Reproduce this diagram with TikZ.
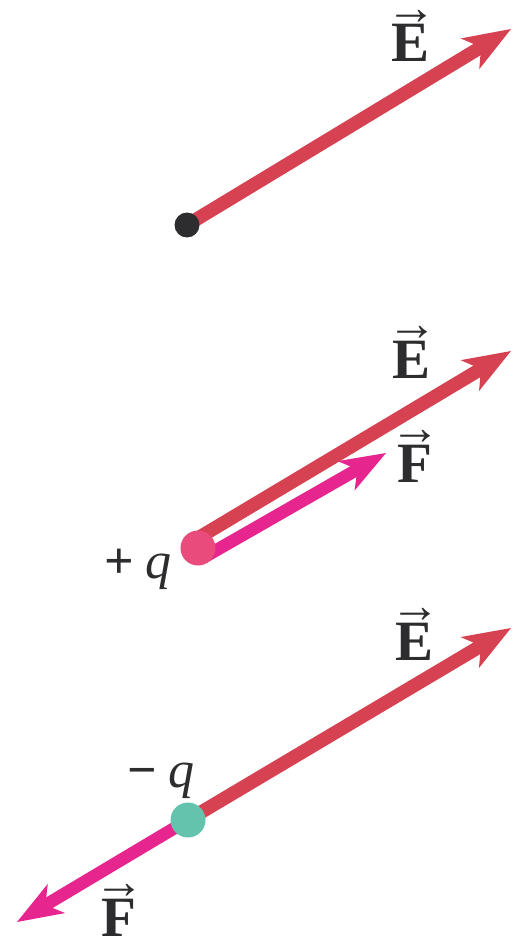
\documentclass[tikz,border=0pt]{standalone}
\usepackage{fontspec}
\setmainfont{Liberation Serif}
\usetikzlibrary{arrows.meta,backgrounds}
\definecolor{efield}{RGB}{214,66,82}
\definecolor{fforce}{RGB}{230,38,142}
\definecolor{dotblack}{RGB}{45,45,48}
\definecolor{dotpink}{RGB}{233,76,124}
\definecolor{dotteal}{RGB}{100,195,172}
\newcommand\vecl[1]{\leavevmode\vbox{\offinterlineskip\halign{\hfil##\hfil\cr
  {\fontsize{50}{50}\selectfont →}\cr\noalign{\kern 0pt}
  \textbf{#1}\cr}}}
\begin{document}
\begin{tikzpicture}[x=1pt,y=-1pt,
  earrow/.style={draw=efield, line width=13.5pt, -{Stealth[length=48pt,width=36pt,inset=13pt,line width=0pt]}},
  farrow/.style={draw=fforce, line width=12.5pt, -{Stealth[length=46pt,width=34pt,inset=13pt,line width=0pt]}},
  charge/.style={circle, inner sep=0pt, minimum size=#1},
  lbl/.style={anchor=base, inner sep=0pt, text=dotblack, font=\fontsize{57}{60}\selectfont},
  qlbl/.style={anchor=base west, inner sep=0pt, text=dotblack, font=\fontsize{52}{56}\selectfont}]
\useasboundingbox (0,0) rectangle (512,941);

% ---------- panel 1 ----------
\node[charge=25pt, fill=dotblack] (d1) at (187,225) {};
\coordinate (e1tip) at (511,29);
\node[lbl] (E1) at (411,62) {\vecl{E}};
\begin{pgfonlayer}{background}
\draw[earrow] (d1.center) -- (e1tip);
\end{pgfonlayer}

% ---------- panel 2 ----------
\node[charge=35pt, fill=dotpink] (d2) at (198,548) {};
\coordinate (e2start) at ([shift={(-4.4,-7.3)}]d2.center);
\coordinate (f2start) at ([shift={(5.7,9.4)}]d2.center);
\coordinate (e2tip) at (511,351);
\coordinate (f2tip) at (386,453);
\node[lbl] (E2) at (412,378) {\vecl{E}};
\node[lbl] (F2) at (415,482) {\vecl{F}};
\node[qlbl] (q2) at (104,578) {\textbf{+}\hspace{12pt}\textit{q}};
\begin{pgfonlayer}{background}
\draw[earrow] (e2start) -- (e2tip);
\draw[farrow] (f2start) -- (f2tip);
\end{pgfonlayer}

% ---------- panel 3 ----------
\node[charge=35pt, fill=dotteal] (d3) at (188,820) {};
\coordinate (e3tip) at (511,628);
\coordinate (f3tip) at (17,922);
\node[lbl] (E3) at (415,660) {\vecl{E}};
\node[lbl] (F3) at (119,936) {\vecl{F}};
\node[qlbl] (q3) at (127,787) {\textbf{−}\hspace{12pt}\textit{q}};
\begin{pgfonlayer}{background}
\draw[earrow] (d3.center) -- (e3tip);
\draw[farrow] (d3.center) -- (f3tip);
\end{pgfonlayer}
\end{tikzpicture}
\end{document}
